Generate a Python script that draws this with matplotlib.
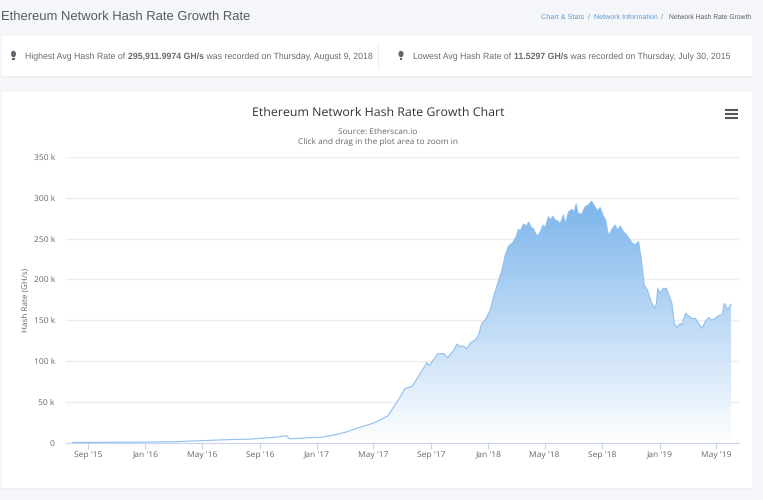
import matplotlib
matplotlib.use("Agg")
import matplotlib.pyplot as plt
import matplotlib.dates as mdates
from matplotlib.patches import Rectangle, Ellipse, PathPatch
from matplotlib.path import Path
from matplotlib.colors import LinearSegmentedColormap
from matplotlib.ticker import FuncFormatter
import numpy as np
import pandas as pd

plt.rcParams["text.hinting"] = "no_hinting"
plt.rcParams["text.hinting_factor"] = 8

dates = ["2015-07-30","2015-11-01","2016-01-01","2016-03-01","2016-05-01","2016-07-01","2016-08-15","2016-09-01",
"2016-10-01","2016-10-28","2016-11-03","2016-12-01","2017-01-01","2017-01-07","2017-02-01","2017-03-01","2017-04-01",
"2017-05-01","2017-06-01","2017-06-25","2017-07-08","2017-07-22","2017-08-05","2017-08-23","2017-08-28","2017-09-15",
"2017-09-28","2017-10-06","2017-10-19","2017-10-26","2017-11-02","2017-11-09","2017-11-16","2017-11-24","2017-12-04",
"2017-12-11","2017-12-18","2017-12-25","2018-01-05","2018-01-12","2018-01-23","2018-01-30","2018-02-06","2018-02-13",
"2018-02-22","2018-03-01","2018-03-06","2018-03-10","2018-03-17","2018-03-23","2018-03-28","2018-04-02","2018-04-07",
"2018-04-14","2018-04-21","2018-04-27","2018-05-02","2018-05-09","2018-05-14","2018-05-18","2018-05-23","2018-05-28",
"2018-06-03","2018-06-10","2018-06-14","2018-06-21","2018-06-28","2018-07-03","2018-07-07","2018-07-11","2018-07-19",
"2018-07-26","2018-08-02","2018-08-09","2018-08-16","2018-08-22","2018-08-27","2018-09-03","2018-09-08","2018-09-14",
"2018-09-21","2018-09-28","2018-10-03","2018-10-09","2018-10-16","2018-10-23","2018-11-03","2018-11-10","2018-11-17",
"2018-11-23","2018-11-29","2018-12-06","2018-12-14","2018-12-21","2018-12-25","2018-12-28","2019-01-02","2019-01-08",
"2019-01-15","2019-01-22","2019-01-27","2019-02-01","2019-02-07","2019-02-14","2019-02-17","2019-02-25","2019-03-04",
"2019-03-11","2019-03-18","2019-03-25","2019-04-01","2019-04-08","2019-04-15","2019-04-22","2019-04-29","2019-05-07",
"2019-05-14","2019-05-19","2019-05-26","2019-06-02"]
hash_k = [0.0115,0.3,0.5,0.9,2.3,3.6,4.2,5.0,6.3,8.2,4.5,5.3,6.5,6.0,8.6,12.3,18.4,23.7,32.7,54,66.6,68.6,81,98,94,108.7,
109,104,113,120.7,117.4,118.2,115,122.3,125.6,131.7,146,150,162.3,178.7,199,211.4,229.7,240.8,244.9,252.2,261.2,259.6,
267.7,265.3,270.2,263.6,262.4,253,257,266.5,263.6,276.7,272.6,277.5,272.6,271.8,268.5,278.8,268.5,282.8,285.7,282.8,
292.2,280.8,280,289,291,295.9,289,284,288,277.5,272.6,253,261.2,266.5,260.4,265.3,258.3,254.2,244.9,242,246.3,223.6,193,
186.8,172.5,164.4,170.5,188.9,182.8,188.9,188.9,178.7,170.5,146,141.1,146,144,158.3,155,152,152,146,139.9,148,153.3,150,
152,156,156,170.5,163,169.5]
y_ticks = [0,50,100,150,200,250,300,350]
x_ticks = ["2015-09-01","2016-01-01","2016-05-01","2016-09-01","2017-01-01","2017-05-01","2017-09-01","2018-01-01",
           "2018-05-01","2018-09-01","2019-01-01","2019-05-01"]
x_limits = ["2015-07-16","2019-06-19"]
info_high = ["Highest Avg Hash Rate of ", "295,911.9974 GH/s", " was recorded on Thursday, August 9, 2018"]
info_low = ["Lowest Avg Hash Rate of ", "11.5297 GH/s", " was recorded on Thursday, July 30, 2015"]

W, H = 763, 500
BLUE = "#7cb5ec"
HEAD = "Liberation Sans"
BODY = "Open Sans"

fig = plt.figure(figsize=(W/100, H/100), dpi=100, facecolor="#f5f6f9")

def fx(x): return x / W
def fy(y): return 1 - y / H

def card(x0, y0, x1, y1):
    fig.patches.append(Rectangle((fx(x0), fy(y1+2)), (x1-x0)/W, (y1-y0)/H, transform=fig.transFigure,
                                 fc="#eff0f4", ec="none", zorder=0))
    fig.patches.append(Rectangle((fx(x0), fy(y1)), (x1-x0)/W, (y1-y0)/H, transform=fig.transFigure,
                                 fc="white", ec="none", zorder=0.5))

card(2, 36, 752, 76)
card(2, 92, 752, 488)
fig.add_artist(plt.Line2D([fx(378), fx(378)], [fy(45), fy(68)], color="#f0f1f4", lw=1))

ax = fig.add_axes([fx(66), fy(442.5), (739-66)/W, (442.5-157)/H], facecolor="none", zorder=2)
x = mdates.date2num(pd.to_datetime(dates))
y = np.array(hash_k)

verts = np.column_stack([np.r_[x, x[-1], x[0]], np.r_[y, 0, 0]])
clip = PathPatch(Path(np.vstack([verts, verts[0]]), closed=True), transform=ax.transData, fc="none", ec="none")
ax.add_patch(clip)
cmap = LinearSegmentedColormap.from_list("g", [BLUE, "#ffffff"])
im = ax.imshow(np.linspace(0, 1, 256).reshape(-1, 1), cmap=cmap, aspect="auto",
               extent=[x.min(), x.max(), 0, y.max()], origin="upper", zorder=1)
im.set_clip_path(clip)
ax.plot(x, y, color="#8fc0ef", lw=0.8, zorder=3, solid_joinstyle="round")

ax.set_xlim(*mdates.date2num(pd.to_datetime(x_limits)))
ax.set_ylim(0, 350)
ax.set_yticks(y_ticks)
ax.yaxis.set_major_formatter(FuncFormatter(lambda v, _: "0" if v == 0 else f"{int(v)} k"))
ax.set_xticks(mdates.date2num(pd.to_datetime(x_ticks)))
ax.xaxis.set_major_formatter(mdates.DateFormatter("%b '%y"))
ax.grid(axis="y", color="#ededed", lw=1, zorder=0)
ax.set_axisbelow(True)
for s in ("top", "left", "right"):
    ax.spines[s].set_visible(False)
ax.spines["bottom"].set_color("#ccd6eb")
ax.tick_params(axis="x", length=4, color="#ccd6eb", labelcolor="#666666", labelsize=6.1, pad=6.5)
ax.tick_params(axis="y", length=0, labelcolor="#666666", labelsize=6.1, pad=8)
for t in ax.get_xticklabels() + ax.get_yticklabels():
    t.set_family(BODY)
for t in ax.get_xticklabels():
    t.set_verticalalignment("baseline")

def text(px, py, s, size, color, ha="left", family=HEAD, va="center", **kw):
    return fig.text(fx(px), fy(py), s, fontsize=size, color=color, ha=ha, va=va, family=family, **kw)

text(26, 300, "Hash Rate (GH/s)", 5.9, "#666666", ha="center", family=BODY, rotation=90)
text(1, 17, "Ethereum Network Hash Rate Growth Rate", 9.35, "#555b62")
text(541, 17, "Chart & Stats", 5.2, "#5a9bd8")
text(589, 17, "/", 5.2, "#888888", ha="center")
text(594, 17, "Network Information", 5.1, "#5a9bd8")
text(662.5, 17, "/", 5.2, "#888888", ha="center")
text(669, 17, "Network Hash Rate Growth", 4.9, "#555b62")

def bulb(px):
    fig.add_artist(Ellipse((fx(px), fy(54)), 5/W, 6.5/H, transform=fig.transFigure, fc="#5f6670", ec="none"))
    fig.add_artist(Rectangle((fx(px-1.2), fy(60)), 2.4/W, 2.5/H, transform=fig.transFigure, fc="#5f6670", ec="none"))

bulb(13.5)
bulb(401)

renderer = fig.canvas.get_renderer()

def part_width(part, size, weight):
    # spaces at the ends of a part are kept by measuring between sentinel characters
    probe = fig.text(0, 0, "|" + part + "|", fontsize=size, family=HEAD, fontweight=weight)
    bar = fig.text(0, 0, "||", fontsize=size, family=HEAD, fontweight=weight)
    w = probe.get_window_extent(renderer).width - bar.get_window_extent(renderer).width
    probe.remove()
    bar.remove()
    return w

def info(px, parts, size):
    pos = px
    for i, part in enumerate(parts):
        weight = "bold" if i == 1 else "normal"
        text(pos, 59, part, size, "#666b72", fontweight=weight, va="baseline")
        pos += part_width(part, size, weight)

info(25, info_high, 6.3)
info(413, info_low, 6.27)

text(378, 112.5, "Ethereum Network Hash Rate Growth Chart", 8.95, "#333333", ha="center", family=BODY)
text(378, 132, "Source: Etherscan.io", 6.0, "#666666", ha="center", family=BODY)
text(378, 142, "Click and drag in the plot area to zoom in", 6.0, "#666666", ha="center", family=BODY)

for py in (110, 114, 118):
    fig.add_artist(plt.Line2D([fx(725.5), fx(736.5)], [fy(py), fy(py)], color="#555555", lw=1.5))

fig.savefig("out.png", dpi=100, facecolor=fig.get_facecolor())
